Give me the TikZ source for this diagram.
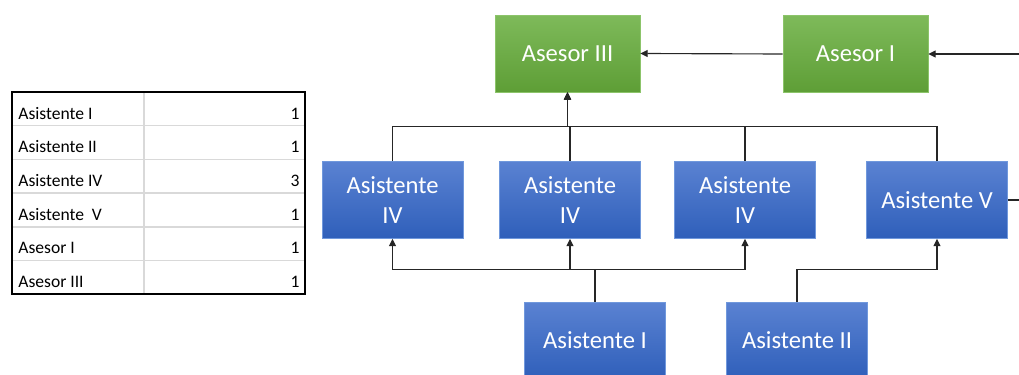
\documentclass[tikz,border=0pt]{standalone}
\usepackage{fontspec}
\setmainfont{Carlito}
\usepackage{tikz}
\usetikzlibrary{arrows.meta,calc}

\definecolor{grtop}{HTML}{7EBA5A}
\definecolor{grbot}{HTML}{5E9E36}
\definecolor{grline}{HTML}{8CC46A}
\definecolor{bltop}{HTML}{5A82D2}
\definecolor{blbot}{HTML}{2F5FBA}
\definecolor{blline}{HTML}{7098DC}

\begin{document}
\begin{tikzpicture}[x=0.02cm, y=-0.02cm,
  asesor/.style={draw=grline, top color=grtop, bottom color=grbot,
    minimum width=2.9cm, minimum height=1.54cm, inner sep=2pt,
    text=white, font=\fontsize{14}{17.5}\selectfont, align=center},
  asist/.style={draw=blline, top color=bltop, bottom color=blbot,
    minimum width=2.82cm, minimum height=1.54cm, inner sep=2pt,
    text=white, font=\fontsize{14}{17.5}\selectfont, align=center},
  link/.style={black!85, line width=0.65pt},
  arr/.style={link, -{Triangle[length=4.2pt,width=4pt]}},
  tablab/.style={anchor=base west, inner sep=0pt, font=\fontsize{10}{12}\selectfont},
  tabnum/.style={anchor=base east, inner sep=0pt, font=\fontsize{10}{12}\selectfont}]

%% ── Frame: 1 unit = 1 px of the 1019 x 375 reference ─────────────────────────
\useasboundingbox (0,0) rectangle (1019,375);
\clip (0,0) rectangle (1019,375);

%% ── Count table ──────────────────────────────────────────────────────────────
% rows 33.7px tall, from y=92 to y=294; split at x=144
\foreach \k in {1,...,5}
  \draw[black!15, line width=0.8pt] (12, 92+33.7*\k) -- (305, 92+33.7*\k);
\draw[black!15, line width=0.8pt] (144, 92) -- (144, 294);
\draw[black, line width=1.3pt] (12, 92) rectangle (305, 294);

\foreach \i/\lab/\n in {1/Asistente I/1, 2/Asistente II/1, 3/Asistente IV/3,
                        4/Asistente\ \ V/1, 5/Asesor I/1, 6/Asesor III/1}{
  \node[tablab] (row\i) at (18, 92+33.7*\i-6.5) {\lab};
  \node[tabnum] (num\i) at (300, 92+33.7*\i-6.5) {\n};
}

%% ── Top level ────────────────────────────────────────────────────────────────
\node[asesor] (asesorIII) at (567.5, 53.5) {Asesor III};
\node[asesor] (asesorI)   at (855.5, 54)   {Asesor I};

%% ── Middle level ─────────────────────────────────────────────────────────────
\node[asist] (asisIVa) at (392.5, 200) {Asistente\\IV};
\node[asist] (asisIVb) at (570, 200)   {Asistente\\IV};
\node[asist] (asisIVc) at (745, 200)   {Asistente\\IV};
\node[asist] (asisV)   at (937, 200)   {Asistente V};

%% ── Bottom level (cut by the lower edge) ─────────────────────────────────────
\node[asist] (asisI)  at (595, 340.5) {Asistente I};
\node[asist] (asisII) at (797, 340.5) {Asistente II};

%% ── Connectors: middle -> Asesor III (bus at y=127) ──────────────────────────
\foreach \src in {asisIVa, asisIVb, asisIVc, asisV}
  \draw[arr] (\src.north) -- ++(0,-34.5) -| (asesorIII.south);

%% ── Connectors: top row ──────────────────────────────────────────────────────
\draw[arr] (asesorI.west) -- (asesorIII.east);
\draw[arr] (asisV.east) -- ++(24,0) |- (asesorI.east);

%% ── Connectors: bottom -> middle (bus at y=270) ──────────────────────────────
\foreach \dst in {asisIVa, asisIVb, asisIVc}
  \draw[arr] (asisI.north) -- ++(0,-32) -| (\dst.south);
\draw[arr] (asisII.north) -- ++(0,-32) -| (asisV.south);

\end{tikzpicture}
\end{document}
